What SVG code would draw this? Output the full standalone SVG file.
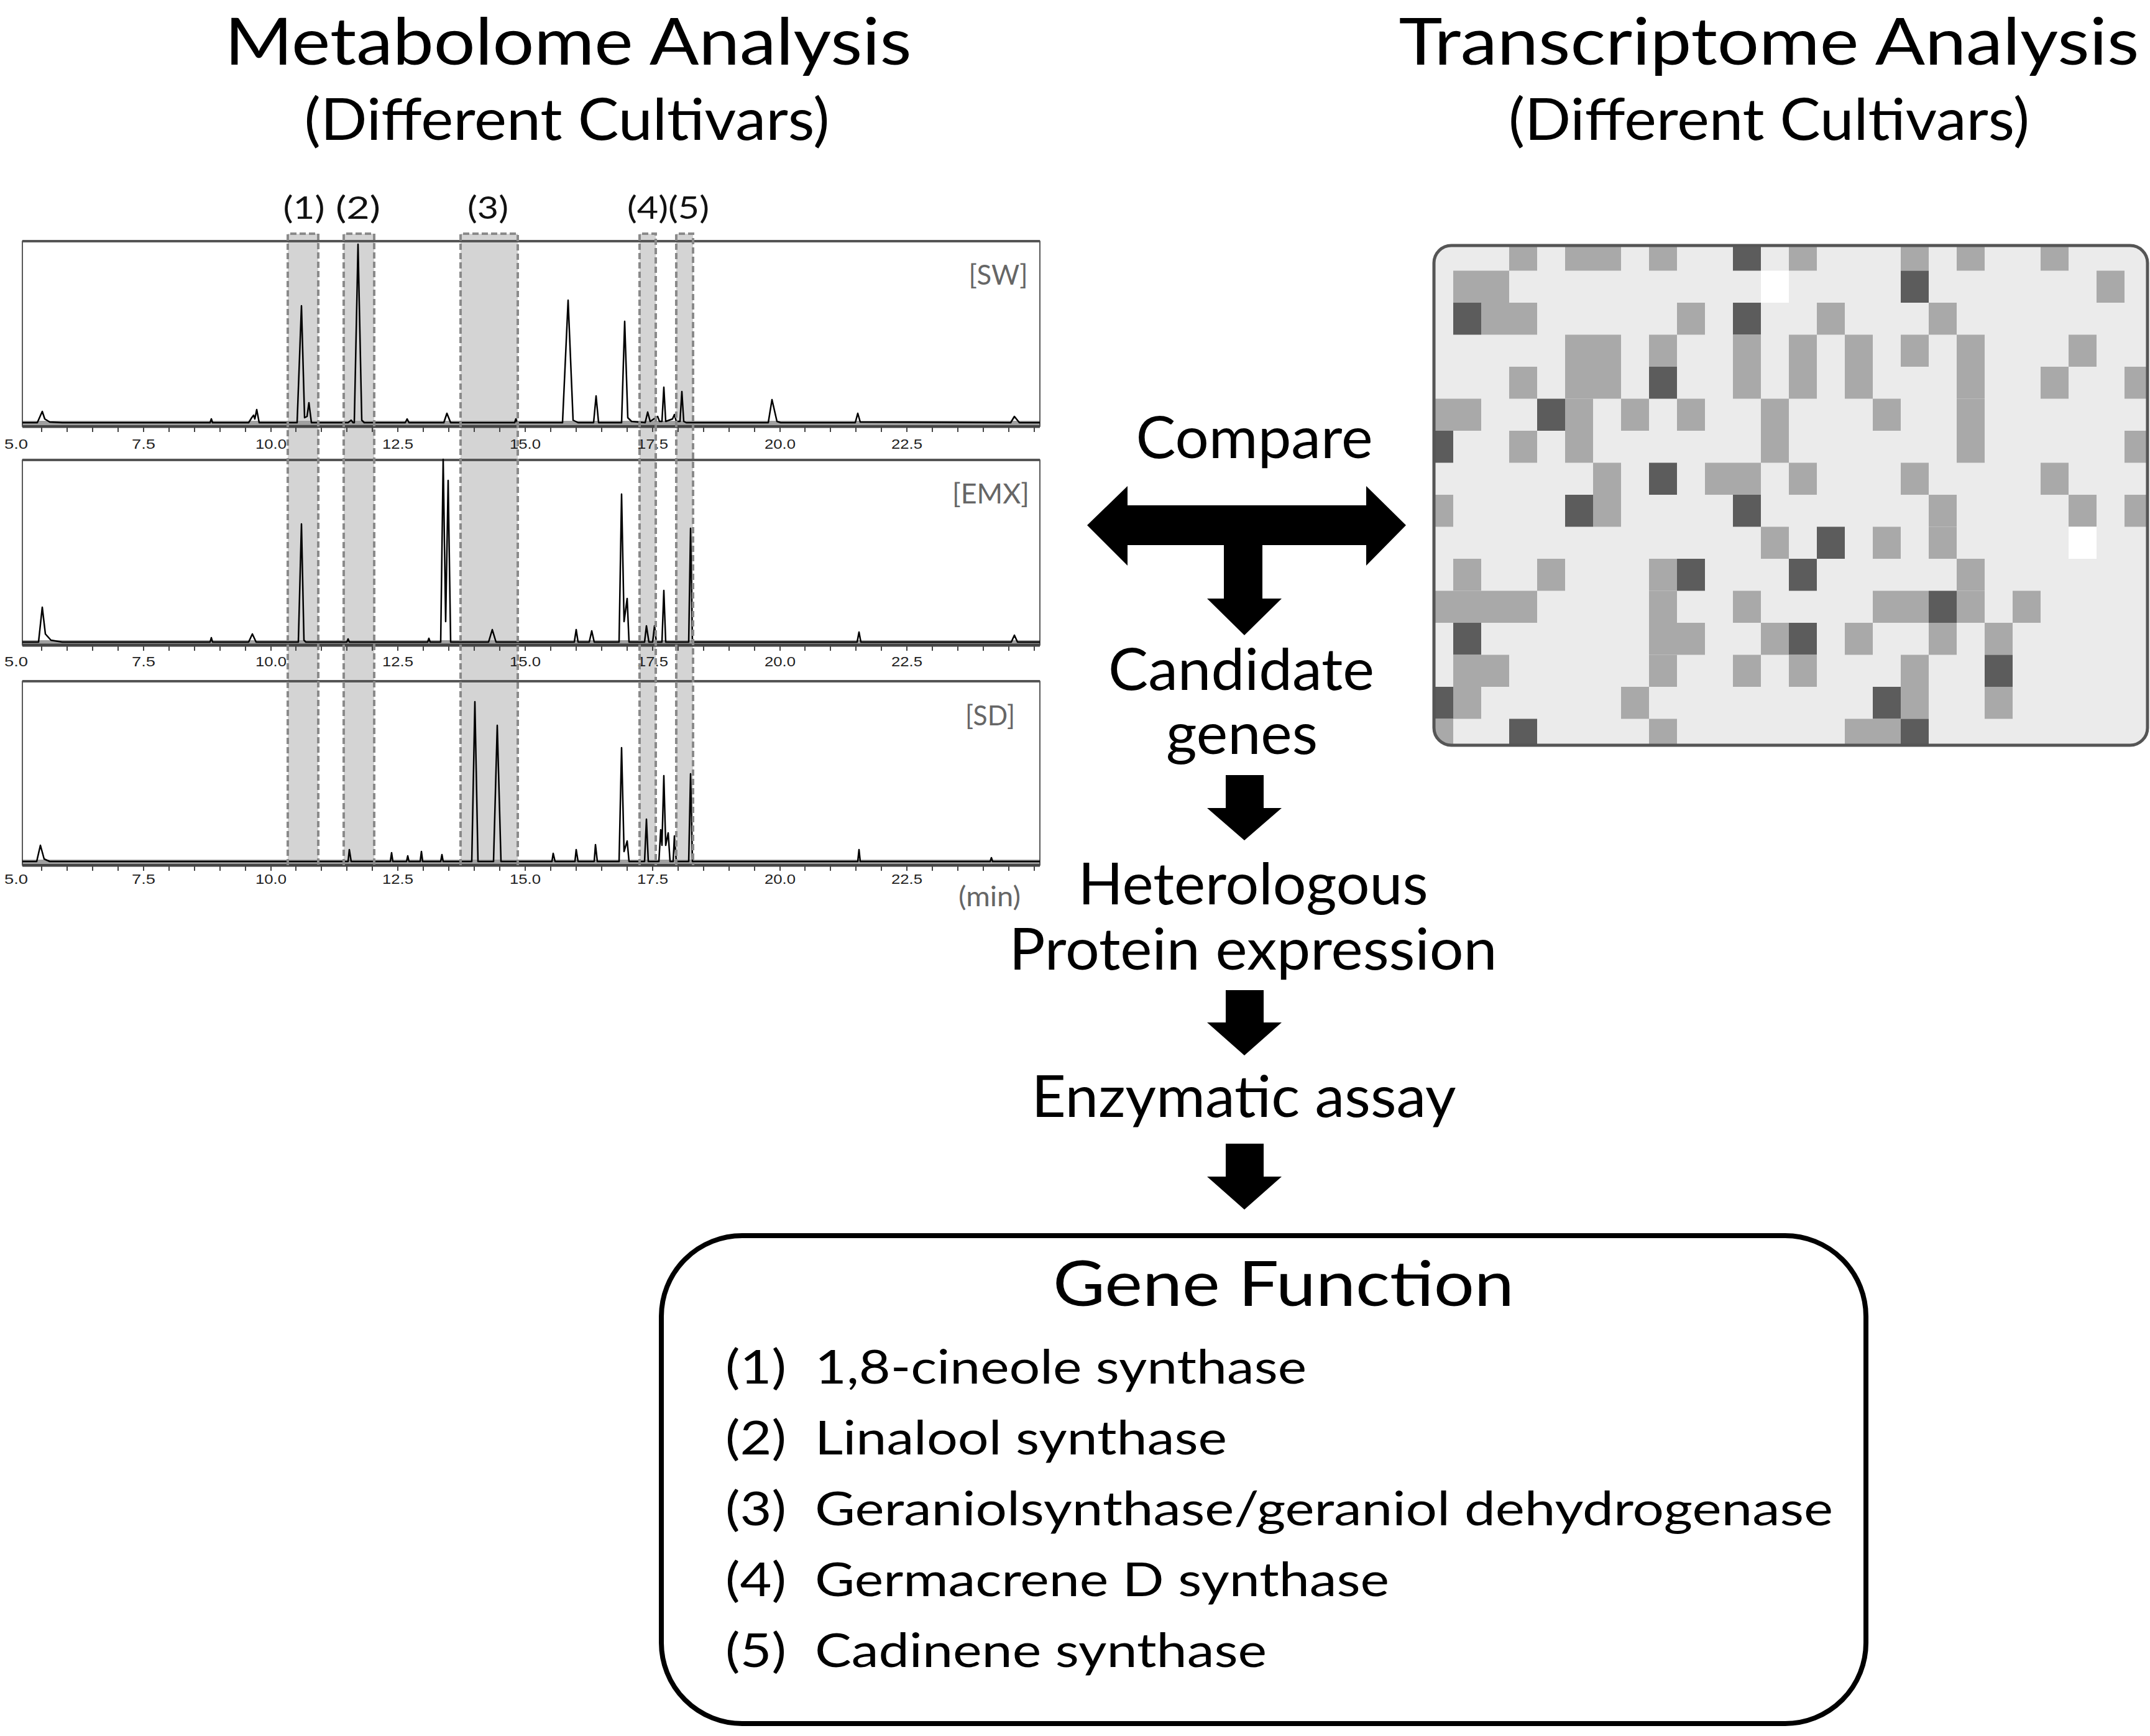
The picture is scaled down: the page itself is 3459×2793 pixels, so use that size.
<svg xmlns="http://www.w3.org/2000/svg" width="3459" height="2793" viewBox="0 0 3459 2793">
<style>
.t{font-family:Lato,"Open Sans","Liberation Sans",sans-serif;fill:#000}
.ttl{font-size:105px}
.sub{font-size:94px}
.step{font-size:93px}
.gf{font-size:100px}
.it{font-size:75px}
.bl{font-size:50px;font-family:Lato,"Liberation Sans",sans-serif;fill:#111}
.pl{font-size:44px;font-family:Lato,"Liberation Sans",sans-serif;fill:#666}
.tk{font-size:22px;font-family:"Liberation Sans",sans-serif;fill:#222}
.frame{fill:none;stroke:#222;stroke-width:1.5}
.topline{stroke:#555;stroke-width:4}
.axis{stroke:#444;stroke-width:5}
.noise{fill:#a0a0a0}
.trace{fill:none;stroke:#000;stroke-width:2.5;stroke-linejoin:round}
.band{fill:#d4d4d4}
.dash{fill:none;stroke:#8a8a8a;stroke-width:4;stroke-dasharray:10 5}
.m{fill:#a9a9a9}
.d{fill:#5c5c5c}
.w{fill:#ffffff}
.arrow{fill:#000}
</style>
<defs>
<path id="ticks" d="M67 0v9M108 0v9M149 0v9M190 0v9M231 0v9M272 0v9M313 0v9M354 0v9M395 0v9M436 0v9M476 0v9M517 0v9M558 0v9M599 0v9M640 0v9M681 0v9M722 0v9M763 0v9M804 0v9M845 0v9M886 0v9M927 0v9M968 0v9M1009 0v9M1050 0v9M1091 0v9M1132 0v9M1173 0v9M1214 0v9M1255 0v9M1295 0v9M1336 0v9M1377 0v9M1418 0v9M1459 0v9M1500 0v9M1541 0v9M1582 0v9M1623 0v9M1664 0v9" stroke="#444" stroke-width="2"/>
<clipPath id="hmclip"><rect x="2307" y="395" width="1148" height="804" rx="28"/></clipPath>
</defs>
<rect width="3459" height="2793" fill="#fff"/>

<g id="title-metabolome">
<text class="t ttl" x="914" y="104" text-anchor="middle" textLength="1105" lengthAdjust="spacingAndGlyphs">Metabolome Analysis</text>
<text class="t sub" x="912" y="225" text-anchor="middle" textLength="845" lengthAdjust="spacingAndGlyphs">(Different Cultivars)</text>
</g>
<g id="title-transcriptome">
<text class="t ttl" x="2846" y="104" text-anchor="middle" textLength="1191" lengthAdjust="spacingAndGlyphs">Transcriptome Analysis</text>
<text class="t sub" x="2846" y="225" text-anchor="middle" textLength="838" lengthAdjust="spacingAndGlyphs">(Different Cultivars)</text>
</g>

<g id="chromatograms">
<g id="bands">
<rect class="band" x="463" y="376" width="49" height="1016"/>
<rect class="band" x="553" y="376" width="49" height="1016"/>
<rect class="band" x="741" y="376" width="92" height="1016"/>
<rect class="band" x="1029" y="376" width="26" height="1016"/>
<rect class="band" x="1088" y="376" width="27" height="1016"/>
</g>
<g id="panel-sw">
<rect class="noise" x="36" y="677" width="1637" height="6"/>
<rect class="frame" x="36" y="388" width="1637" height="298"/>
<line class="topline" x1="36" y1="388" x2="1673" y2="388"/>
<line class="axis" x1="36" y1="686" x2="1673" y2="686"/>
<use href="#ticks" transform="translate(0,686)"/>
<path class="trace" d="M36,680 L60,680 L68,662 L72,674 L80,679 L100,680 L338,680 L340,674 L342,680 L400,680 L405,672 L408,668 L410,674 L413,659 L417,680 L478,680 L485,492 L490,672 L494,670 L497,648 L501,680 L560,680 L565,676 L568,680 L570,680 L576,393 L582,676 L586,680 L652,680 L655,674 L658,680 L714,680 L719,665 L725,680 L828,680 L830,674 L832,680 L905,680 L914,483 L922,676 L930,680 L955,680 L959,637 L963,680 L1000,680 L1005,517 L1010,672 L1016,678 L1038,680 L1042,663 L1046,678 L1055,672 L1058,670 L1061,678 L1065,678 L1068,623 L1071,678 L1082,674 L1085,667 L1088,678 L1094,678 L1097,630 L1100,678 L1104,680 L1236,680 L1242,643 L1250,678 L1256,680 L1376,680 L1380,665 L1384,679 L1626,680 L1632,670 L1640,680 L1673,680"/>
<text class="pl" x="1606" y="458" text-anchor="middle" textLength="95" lengthAdjust="spacingAndGlyphs">[SW]</text>
<text class="tk" x="26" y="722" text-anchor="middle" textLength="38" lengthAdjust="spacingAndGlyphs">5.0</text>
<text class="tk" x="231" y="722" text-anchor="middle" textLength="38" lengthAdjust="spacingAndGlyphs">7.5</text>
<text class="tk" x="436" y="722" text-anchor="middle" textLength="50" lengthAdjust="spacingAndGlyphs">10.0</text>
<text class="tk" x="640" y="722" text-anchor="middle" textLength="50" lengthAdjust="spacingAndGlyphs">12.5</text>
<text class="tk" x="845" y="722" text-anchor="middle" textLength="50" lengthAdjust="spacingAndGlyphs">15.0</text>
<text class="tk" x="1050" y="722" text-anchor="middle" textLength="50" lengthAdjust="spacingAndGlyphs">17.5</text>
<text class="tk" x="1255" y="722" text-anchor="middle" textLength="50" lengthAdjust="spacingAndGlyphs">20.0</text>
<text class="tk" x="1459" y="722" text-anchor="middle" textLength="50" lengthAdjust="spacingAndGlyphs">22.5</text>
</g>
<g id="panel-emx">
<rect class="noise" x="36" y="1030" width="1637" height="6"/>
<rect class="frame" x="36" y="740" width="1637" height="298"/>
<line class="topline" x1="36" y1="740" x2="1673" y2="740"/>
<line class="axis" x1="36" y1="1038" x2="1673" y2="1038"/>
<use href="#ticks" transform="translate(0,1038)"/>
<path class="trace" d="M36,1033 L62,1033 L68,977 L73,1020 L82,1030 L100,1033 L338,1033 L340,1026 L342,1033 L400,1033 L406,1020 L412,1033 L480,1033 L485,843 L489,1030 L492,1033 L558,1033 L560,1028 L562,1033 L688,1033 L690,1027 L692,1033 L709,1033 L713,739 L717,1000 L721,773 L725,1033 L786,1033 L792,1013 L798,1033 L924,1033 L927,1013 L930,1033 L948,1033 L952,1015 L956,1033 L996,1033 L1000,795 L1004,1000 L1009,963 L1012,1033 L1037,1033 L1040,1007 L1044,1033 L1050,1033 L1053,1007 L1056,1033 L1065,1033 L1068,950 L1071,1033 L1108,1033 L1111,850 L1114,1033 L1379,1033 L1382,1017 L1385,1033 L1627,1033 L1632,1022 L1637,1033 L1673,1033"/>
<text class="pl" x="1594" y="810" text-anchor="middle" textLength="124" lengthAdjust="spacingAndGlyphs">[EMX]</text>
<text class="tk" x="26" y="1072" text-anchor="middle" textLength="38" lengthAdjust="spacingAndGlyphs">5.0</text>
<text class="tk" x="231" y="1072" text-anchor="middle" textLength="38" lengthAdjust="spacingAndGlyphs">7.5</text>
<text class="tk" x="436" y="1072" text-anchor="middle" textLength="50" lengthAdjust="spacingAndGlyphs">10.0</text>
<text class="tk" x="640" y="1072" text-anchor="middle" textLength="50" lengthAdjust="spacingAndGlyphs">12.5</text>
<text class="tk" x="845" y="1072" text-anchor="middle" textLength="50" lengthAdjust="spacingAndGlyphs">15.0</text>
<text class="tk" x="1050" y="1072" text-anchor="middle" textLength="50" lengthAdjust="spacingAndGlyphs">17.5</text>
<text class="tk" x="1255" y="1072" text-anchor="middle" textLength="50" lengthAdjust="spacingAndGlyphs">20.0</text>
<text class="tk" x="1459" y="1072" text-anchor="middle" textLength="50" lengthAdjust="spacingAndGlyphs">22.5</text>
</g>
<g id="panel-sd">
<rect class="noise" x="36" y="1383" width="1637" height="6"/>
<rect class="frame" x="36" y="1096" width="1637" height="296"/>
<line class="topline" x1="36" y1="1096" x2="1673" y2="1096"/>
<line class="axis" x1="36" y1="1392" x2="1673" y2="1392"/>
<use href="#ticks" transform="translate(0,1392)"/>
<path class="trace" d="M36,1386 L59,1386 L65,1360 L71,1382 L80,1386 L560,1386 L562,1367 L565,1386 L628,1386 L630,1372 L632,1386 L654,1386 L656,1377 L658,1386 L676,1386 L678,1370 L680,1386 L709,1386 L711,1375 L713,1386 L759,1386 L764,1129 L769,1386 L794,1386 L800,1167 L806,1386 L888,1386 L890,1373 L893,1386 L925,1386 L927,1367 L930,1386 L956,1386 L958,1359 L961,1386 L996,1386 L1000,1203 L1004,1370 L1009,1353 L1012,1386 L1037,1386 L1040,1318 L1043,1386 L1060,1386 L1063,1335 L1065,1360 L1068,1248 L1071,1360 L1075,1340 L1078,1386 L1083,1386 L1085,1345 L1088,1386 L1108,1386 L1111,1245 L1114,1386 L1380,1386 L1382,1367 L1384,1386 L1593,1386 L1595,1380 L1597,1386 L1673,1386"/>
<text class="pl" x="1593" y="1167" text-anchor="middle" textLength="80" lengthAdjust="spacingAndGlyphs">[SD]</text>
<text class="tk" x="26" y="1422" text-anchor="middle" textLength="38" lengthAdjust="spacingAndGlyphs">5.0</text>
<text class="tk" x="231" y="1422" text-anchor="middle" textLength="38" lengthAdjust="spacingAndGlyphs">7.5</text>
<text class="tk" x="436" y="1422" text-anchor="middle" textLength="50" lengthAdjust="spacingAndGlyphs">10.0</text>
<text class="tk" x="640" y="1422" text-anchor="middle" textLength="50" lengthAdjust="spacingAndGlyphs">12.5</text>
<text class="tk" x="845" y="1422" text-anchor="middle" textLength="50" lengthAdjust="spacingAndGlyphs">15.0</text>
<text class="tk" x="1050" y="1422" text-anchor="middle" textLength="50" lengthAdjust="spacingAndGlyphs">17.5</text>
<text class="tk" x="1255" y="1422" text-anchor="middle" textLength="50" lengthAdjust="spacingAndGlyphs">20.0</text>
<text class="tk" x="1459" y="1422" text-anchor="middle" textLength="50" lengthAdjust="spacingAndGlyphs">22.5</text>
<text class="pl" x="1592" y="1458" text-anchor="middle" textLength="100" lengthAdjust="spacingAndGlyphs">(min)</text>
</g>
<g id="band-outlines">
<path class="dash" d="M463,1392 V376 H512 V1392"/>
<path class="dash" d="M553,1392 V376 H602 V1392"/>
<path class="dash" d="M741,1392 V376 H833 V1392"/>
<path class="dash" d="M1029,1392 V376 H1055 V1392"/>
<path class="dash" d="M1088,1392 V376 H1115 V1392"/>
</g>
<g id="band-labels">
<text class="bl" x="489" y="352" text-anchor="middle" textLength="67" lengthAdjust="spacingAndGlyphs">(1)</text>
<text class="bl" x="576" y="352" text-anchor="middle" textLength="72" lengthAdjust="spacingAndGlyphs">(2)</text>
<text class="bl" x="785" y="352" text-anchor="middle" textLength="66" lengthAdjust="spacingAndGlyphs">(3)</text>
<text class="bl" x="1075" y="352" text-anchor="middle" textLength="132" lengthAdjust="spacingAndGlyphs">(4)(5)</text>
</g>
</g>

<g id="heatmap">
<rect x="2307" y="395" width="1148" height="804" rx="28" fill="#ebebeb"/>
<g clip-path="url(#hmclip)">
<rect class="m" x="2428" y="384" width="45" height="51.5"/><rect class="m" x="2518" y="384" width="90" height="51.5"/><rect class="m" x="2653" y="384" width="45" height="51.5"/><rect class="d" x="2788" y="384" width="45" height="51.5"/><rect class="m" x="2878" y="384" width="45" height="51.5"/><rect class="m" x="3058" y="384" width="45" height="51.5"/><rect class="m" x="3148" y="384" width="45" height="51.5"/><rect class="m" x="3283" y="384" width="45" height="51.5"/>
<rect class="m" x="2338" y="435.5" width="90" height="51.5"/><rect class="w" x="2833" y="435.5" width="45" height="51.5"/><rect class="d" x="3058" y="435.5" width="45" height="51.5"/><rect class="m" x="3373" y="435.5" width="45" height="51.5"/>
<rect class="d" x="2338" y="487" width="45" height="51.5"/><rect class="m" x="2383" y="487" width="90" height="51.5"/><rect class="m" x="2698" y="487" width="45" height="51.5"/><rect class="d" x="2788" y="487" width="45" height="51.5"/><rect class="m" x="2923" y="487" width="45" height="51.5"/><rect class="m" x="3103" y="487" width="45" height="51.5"/>
<rect class="m" x="2518" y="538.5" width="90" height="51.5"/><rect class="m" x="2653" y="538.5" width="45" height="51.5"/><rect class="m" x="2788" y="538.5" width="45" height="51.5"/><rect class="m" x="2878" y="538.5" width="45" height="51.5"/><rect class="m" x="2968" y="538.5" width="45" height="51.5"/><rect class="m" x="3058" y="538.5" width="45" height="51.5"/><rect class="m" x="3148" y="538.5" width="45" height="51.5"/><rect class="m" x="3328" y="538.5" width="45" height="51.5"/>
<rect class="m" x="2428" y="590" width="45" height="51.5"/><rect class="m" x="2518" y="590" width="90" height="51.5"/><rect class="d" x="2653" y="590" width="45" height="51.5"/><rect class="m" x="2788" y="590" width="45" height="51.5"/><rect class="m" x="2878" y="590" width="45" height="51.5"/><rect class="m" x="2968" y="590" width="45" height="51.5"/><rect class="m" x="3148" y="590" width="45" height="51.5"/><rect class="m" x="3283" y="590" width="45" height="51.5"/><rect class="m" x="3418" y="590" width="45" height="51.5"/>
<rect class="m" x="2293" y="641.5" width="90" height="51.5"/><rect class="d" x="2473" y="641.5" width="45" height="51.5"/><rect class="m" x="2518" y="641.5" width="45" height="51.5"/><rect class="m" x="2608" y="641.5" width="45" height="51.5"/><rect class="m" x="2698" y="641.5" width="45" height="51.5"/><rect class="m" x="2833" y="641.5" width="45" height="51.5"/><rect class="m" x="3013" y="641.5" width="45" height="51.5"/><rect class="m" x="3148" y="641.5" width="45" height="51.5"/>
<rect class="d" x="2293" y="693" width="45" height="51.5"/><rect class="m" x="2428" y="693" width="45" height="51.5"/><rect class="m" x="2518" y="693" width="45" height="51.5"/><rect class="m" x="2833" y="693" width="45" height="51.5"/><rect class="m" x="3148" y="693" width="45" height="51.5"/><rect class="m" x="3418" y="693" width="45" height="51.5"/>
<rect class="m" x="2563" y="744.5" width="45" height="51.5"/><rect class="d" x="2653" y="744.5" width="45" height="51.5"/><rect class="m" x="2743" y="744.5" width="90" height="51.5"/><rect class="m" x="2878" y="744.5" width="45" height="51.5"/><rect class="m" x="3058" y="744.5" width="45" height="51.5"/><rect class="m" x="3283" y="744.5" width="45" height="51.5"/>
<rect class="m" x="2293" y="796" width="45" height="51.5"/><rect class="d" x="2518" y="796" width="45" height="51.5"/><rect class="m" x="2563" y="796" width="45" height="51.5"/><rect class="d" x="2788" y="796" width="45" height="51.5"/><rect class="m" x="3103" y="796" width="45" height="51.5"/><rect class="m" x="3328" y="796" width="45" height="51.5"/><rect class="m" x="3418" y="796" width="45" height="51.5"/>
<rect class="m" x="2833" y="847.5" width="45" height="51.5"/><rect class="d" x="2923" y="847.5" width="45" height="51.5"/><rect class="m" x="3013" y="847.5" width="45" height="51.5"/><rect class="m" x="3103" y="847.5" width="45" height="51.5"/><rect class="w" x="3328" y="847.5" width="45" height="51.5"/>
<rect class="m" x="2338" y="899" width="45" height="51.5"/><rect class="m" x="2473" y="899" width="45" height="51.5"/><rect class="m" x="2653" y="899" width="45" height="51.5"/><rect class="d" x="2698" y="899" width="45" height="51.5"/><rect class="d" x="2878" y="899" width="45" height="51.5"/><rect class="m" x="3148" y="899" width="45" height="51.5"/>
<rect class="m" x="2293" y="950.5" width="180" height="51.5"/><rect class="m" x="2653" y="950.5" width="45" height="51.5"/><rect class="m" x="2788" y="950.5" width="45" height="51.5"/><rect class="m" x="3013" y="950.5" width="90" height="51.5"/><rect class="d" x="3103" y="950.5" width="45" height="51.5"/><rect class="m" x="3148" y="950.5" width="45" height="51.5"/><rect class="m" x="3238" y="950.5" width="45" height="51.5"/>
<rect class="d" x="2338" y="1002" width="45" height="51.5"/><rect class="m" x="2653" y="1002" width="90" height="51.5"/><rect class="m" x="2833" y="1002" width="45" height="51.5"/><rect class="d" x="2878" y="1002" width="45" height="51.5"/><rect class="m" x="2968" y="1002" width="45" height="51.5"/><rect class="m" x="3103" y="1002" width="45" height="51.5"/><rect class="m" x="3193" y="1002" width="45" height="51.5"/>
<rect class="m" x="2338" y="1053.5" width="90" height="51.5"/><rect class="m" x="2653" y="1053.5" width="45" height="51.5"/><rect class="m" x="2788" y="1053.5" width="45" height="51.5"/><rect class="m" x="2878" y="1053.5" width="45" height="51.5"/><rect class="m" x="3058" y="1053.5" width="45" height="51.5"/><rect class="d" x="3193" y="1053.5" width="45" height="51.5"/>
<rect class="d" x="2293" y="1105" width="45" height="51.5"/><rect class="m" x="2338" y="1105" width="45" height="51.5"/><rect class="m" x="2608" y="1105" width="45" height="51.5"/><rect class="d" x="3013" y="1105" width="45" height="51.5"/><rect class="m" x="3058" y="1105" width="45" height="51.5"/><rect class="m" x="3193" y="1105" width="45" height="51.5"/>
<rect class="m" x="2293" y="1156.5" width="45" height="51.5"/><rect class="d" x="2428" y="1156.5" width="45" height="51.5"/><rect class="m" x="2653" y="1156.5" width="45" height="51.5"/><rect class="m" x="2968" y="1156.5" width="90" height="51.5"/><rect class="d" x="3058" y="1156.5" width="45" height="51.5"/>
</g>
<rect x="2307" y="395" width="1148" height="804" rx="28" fill="none" stroke="#555" stroke-width="5"/>
</g>

<g id="node-compare">
<text class="t step" x="2018" y="737" text-anchor="middle" textLength="381" lengthAdjust="spacingAndGlyphs">Compare</text>
</g>
<g id="node-candidate">
<text class="t step" x="1997" y="1110" text-anchor="middle" textLength="428" lengthAdjust="spacingAndGlyphs">Candidate</text>
<text class="t step" x="1998" y="1213" text-anchor="middle" textLength="244" lengthAdjust="spacingAndGlyphs">genes</text>
</g>
<g id="node-heterologous">
<text class="t step" x="2016" y="1455" text-anchor="middle" textLength="563" lengthAdjust="spacingAndGlyphs">Heterologous</text>
<text class="t step" x="2016" y="1560" text-anchor="middle" textLength="785" lengthAdjust="spacingAndGlyphs">Protein expression</text>
</g>
<g id="node-assay">
<text class="t step" x="2001" y="1797" text-anchor="middle" textLength="683" lengthAdjust="spacingAndGlyphs">Enzymatic assay</text>
</g>
<g id="node-gene-function">
<rect x="1064" y="1988" width="1938" height="785" rx="130" fill="#fff" stroke="#000" stroke-width="8"/>
<text class="t gf" x="2065" y="2101" text-anchor="middle" textLength="742" lengthAdjust="spacingAndGlyphs">Gene Function</text>
<text class="t it" x="1167" y="2226" textLength="98" lengthAdjust="spacingAndGlyphs">(1)</text>
<text class="t it" x="1311" y="2226" textLength="791" lengthAdjust="spacingAndGlyphs">1,8-cineole synthase</text>
<text class="t it" x="1167" y="2340" textLength="98" lengthAdjust="spacingAndGlyphs">(2)</text>
<text class="t it" x="1311" y="2340" textLength="663" lengthAdjust="spacingAndGlyphs">Linalool synthase</text>
<text class="t it" x="1167" y="2454" textLength="98" lengthAdjust="spacingAndGlyphs">(3)</text>
<text class="t it" x="1311" y="2454" textLength="1638" lengthAdjust="spacingAndGlyphs">Geraniolsynthase/geraniol dehydrogenase</text>
<text class="t it" x="1167" y="2568" textLength="98" lengthAdjust="spacingAndGlyphs">(4)</text>
<text class="t it" x="1311" y="2568" textLength="924" lengthAdjust="spacingAndGlyphs">Germacrene D synthase</text>
<text class="t it" x="1167" y="2682" textLength="98" lengthAdjust="spacingAndGlyphs">(5)</text>
<text class="t it" x="1311" y="2682" textLength="727" lengthAdjust="spacingAndGlyphs">Cadinene synthase</text>
</g>

<g id="connectors">
<polygon class="arrow" points="1749,845 1814,782 1814,813 2198,813 2198,782 2262,845 2198,910 2198,877 2031,877 2031,963 2062,963 2002,1022 1942,963 1969,963 1969,877 1814,877 1814,910"/>
<polygon class="arrow" points="1972,1247 2033,1247 2033,1300 2062,1300 2002,1352 1942,1300 1972,1300"/>
<polygon class="arrow" points="1972,1593 2033,1593 2033,1645 2062,1645 2002,1698 1942,1645 1972,1645"/>
<polygon class="arrow" points="1972,1840 2033,1840 2033,1893 2062,1893 2002,1946 1942,1893 1972,1893"/>
</g>
</svg>
